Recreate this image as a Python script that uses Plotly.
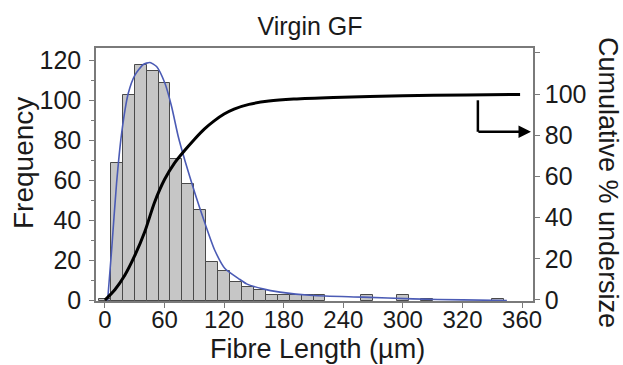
import plotly.graph_objects as go

# ---- data ----
bin_centers = [0, 12, 24, 36, 48, 60, 72, 84, 96, 108, 120, 132, 144, 156,
               168, 180, 192, 204, 216, 264, 300, 324, 396]
frequency = [1, 69, 103, 118, 115, 109, 71, 58.5, 45.5, 19.5, 15, 9.5, 7, 5.5,
             3, 3, 3, 3, 3, 3, 3, 1, 1]

fit_x = [2.7, 6.7, 11.7, 16.8, 23.5, 30.2, 38.6, 45.3, 52, 60.4, 67.1, 73.8,
         80.5, 90.6, 100.7, 110.7, 120.8, 135.9, 142.6, 159, 176.2, 209.4,
         259.7, 310, 360.4, 404.7]
fit_y = [0, 25, 58.6, 83.6, 103.6, 112.7, 118, 119, 117, 108.6, 97, 82,
         70, 53.6, 38.6, 25, 16, 10.5, 8.3, 5.8, 4.2, 2.5,
         1.7, 0.8, 0.3, 0]

cum_x = [0, 10, 20, 30, 40, 50, 60, 70, 80, 90, 100, 110, 120, 130, 145,
         165, 190, 230, 300, 364, 418]
cum_y = [0, 5, 12, 21.5, 33, 47.5, 58.5, 66.5, 72.5, 78, 83, 87, 90.3, 92.7,
         95, 96.6, 97.6, 98.4, 99.2, 99.6, 99.8]

x_tickvals = [0, 60, 120, 180, 240, 300, 360, 420]
x_ticktext = ["0", "60", "120", "180", "240", "300", "320", "360"]
y_tickvals = [0, 20, 40, 60, 80, 100, 120]
y2_tickvals = [0, 20, 40, 60, 80, 100, 120]
y2_ticktext = ["0", "20", "40", "60", "80", "100", ""]

FONT = "Liberation Sans, Arial, sans-serif"
AXIS_GRAY = "#7a7a7a"
TXT = "#1a1a1a"

fig = go.Figure()
fig.add_trace(go.Bar(
    x=bin_centers, y=frequency, width=12,
    marker=dict(color="#c6c6c6", line=dict(color="#4a4a4a", width=1)),
    showlegend=False, hoverinfo="skip"))
fig.add_trace(go.Scatter(
    x=fit_x, y=fit_y, mode="lines",
    line=dict(color="#4b5bb5", width=1.6, shape="spline", smoothing=0.6),
    showlegend=False))
fig.add_trace(go.Scatter(
    x=cum_x, y=cum_y, mode="lines", yaxis="y2",
    line=dict(color="black", width=3, shape="spline", smoothing=0.8),
    showlegend=False))

fig.update_layout(
    width=623, height=365,
    margin=dict(l=96, r=90, t=48, b=64),
    paper_bgcolor="white", plot_bgcolor="white",
    font=dict(family=FONT, color=TXT),
    bargap=0,
    title=dict(text="Virgin GF", x=310 / 623, y=1 - 26 / 365,
               xanchor="center", yanchor="middle",
               font=dict(size=25, family=FONT, color=TXT)),
    xaxis=dict(range=[-9, 431], tickvals=x_tickvals, ticktext=x_ticktext,
               ticks="outside", ticklen=5, tickcolor=AXIS_GRAY,
               showline=True, linecolor=AXIS_GRAY, linewidth=1.5, mirror=True,
               showgrid=False, zeroline=False, ticklabelstandoff=-9,
               tickfont=dict(size=24, family=FONT, color=TXT)),
    yaxis=dict(range=[-0.25, 126.25], tickvals=y_tickvals,
               ticks="outside", ticklen=5, tickcolor=AXIS_GRAY,
               minor=dict(dtick=10, ticks="outside", ticklen=3, tickcolor=AXIS_GRAY),
               showline=True, linecolor=AXIS_GRAY, linewidth=1.5,
               showgrid=False, zeroline=False, ticklabelstandoff=3,
               tickfont=dict(size=25, family=FONT, color=TXT)),
    yaxis2=dict(range=[-0.5, 122.4], overlaying="y", side="right",
                tickvals=y2_tickvals, ticktext=y2_ticktext,
                ticks="outside", ticklen=5, tickcolor=AXIS_GRAY,
                showline=True, linecolor=AXIS_GRAY, linewidth=1.5,
                showgrid=False, zeroline=False,
                tickfont=dict(size=25, family=FONT, color=TXT)),
)

# axis titles
fig.add_annotation(text="Fibre Length (µm)", xref="paper", yref="paper",
                   x=(317 - 96) / 437, y=(301 - 349) / 253,
                   xanchor="center", yanchor="middle", showarrow=False,
                   font=dict(size=27, family=FONT, color=TXT))
fig.add_annotation(text="Frequency", xref="paper", yref="paper",
                   x=(23 - 96) / 437, y=(301 - 163) / 253, textangle=-90,
                   xanchor="center", yanchor="middle", showarrow=False,
                   font=dict(size=28, family=FONT, color=TXT))
fig.add_annotation(text="Cumulative % undersize", xref="paper", yref="paper",
                   x=(608 - 96) / 437, y=(301 - 182) / 253, textangle=90,
                   xanchor="center", yanchor="middle", showarrow=False,
                   font=dict(size=27, family=FONT, color=TXT))

# arrow pointing to the cumulative axis
fig.add_shape(type="line", xref="x", yref="y2", x0=375.5, x1=375.5, y0=97, y1=81.7,
              line=dict(color="black", width=2.5))
fig.add_annotation(x=429, y=81.7, xref="x", yref="y2", ax=374.5, ay=81.7,
                   axref="x", ayref="y2", text="", showarrow=True,
                   arrowhead=2, arrowsize=1, arrowwidth=2.5, arrowcolor="black")

fig.write_html("out.html")
